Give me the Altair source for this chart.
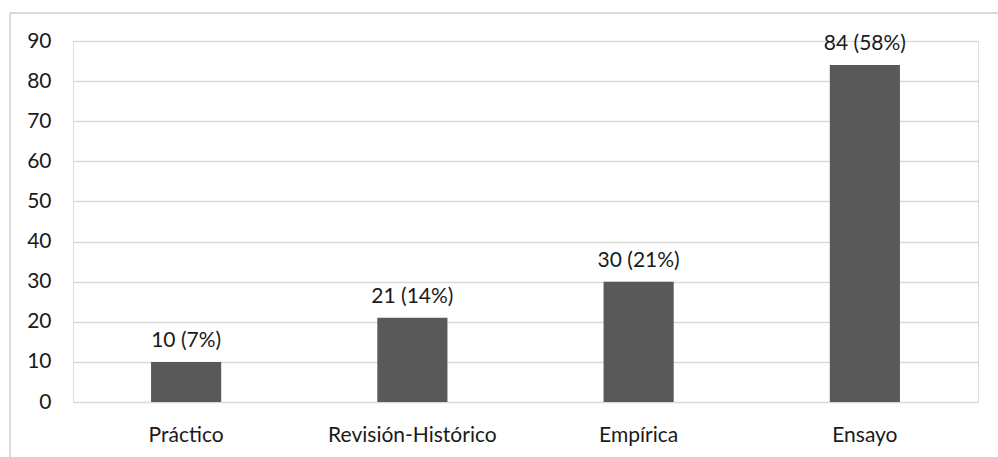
import altair as alt
import pandas as pd

categories = ["Práctico", "Revisión-Histórico", "Empírica", "Ensayo"]
values = [10, 21, 30, 84]
labels = ["10 (7%)", "21 (14%)", "30 (21%)", "84 (58%)"]

df = pd.DataFrame({"cat": categories, "val": values, "lab": labels})

FONT = "Lato"
FS = 21
W, H = 905, 361

x = alt.X("cat:N", sort=categories, title=None,
          scale=alt.Scale(paddingInner=0.69, paddingOuter=0.345),
          axis=alt.Axis(labelAngle=0, domain=False, ticks=False, labelPadding=22,
                        labelFontSize=FS, labelFont=FONT, labelColor="#1a1a1a", grid=False))
y = alt.Y("val:Q", title=None,
          scale=alt.Scale(domain=[0, 90], nice=False),
          axis=alt.Axis(values=list(range(0, 100, 10)), domain=False, ticks=False,
                        labelPadding=22, labelFontSize=FS, labelFont=FONT, labelColor="#1a1a1a",
                        gridColor="#d9d9d9", gridWidth=1.5))

bars = alt.Chart(df).mark_bar(color="#595959").encode(x=x, y=y)
text = alt.Chart(df).mark_text(dy=-15, baseline="alphabetic", fontSize=FS, font=FONT,
                               color="#1a1a1a").encode(x=alt.X("cat:N", sort=categories), y="val:Q", text="lab:N")

frame_top = alt.Chart(df).mark_rule(color="#d9d9d9", strokeWidth=2, clip=False).encode(
    x=alt.value(-63), x2=alt.value(1000), y=alt.value(-28))
frame_left = alt.Chart(df).mark_rule(color="#d9d9d9", strokeWidth=2, clip=False).encode(
    x=alt.value(-63), y=alt.value(-28), y2=alt.value(500))

chart = alt.layer(frame_top, frame_left, bars, text).properties(
    width=W, height=H,
    autosize=alt.AutoSizeParams(type="none"),
    padding={"left": 73, "top": 41, "right": 20, "bottom": 55},
).configure_view(stroke=None).configure(background="white")

chart.save("out.html", embed_options={"renderer": "svg", "actions": False})
